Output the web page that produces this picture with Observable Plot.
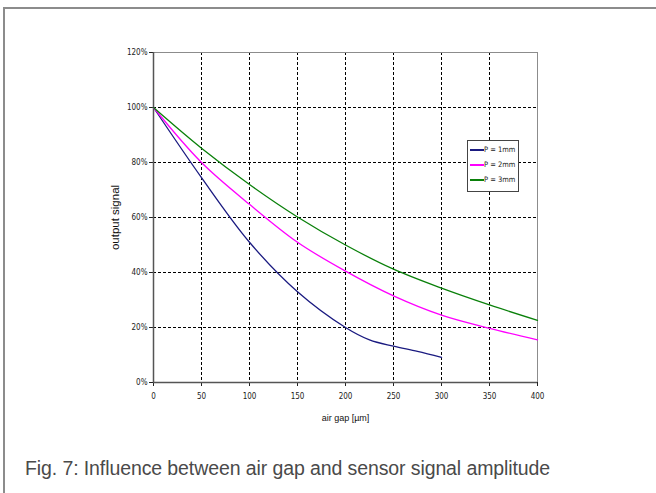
<!DOCTYPE html>
<html>
<head>
<meta charset="utf-8">
<script src="https://cdn.jsdelivr.net/npm/d3@7"></script>
<script src="https://cdn.jsdelivr.net/npm/@observablehq/plot@0.6"></script>
<style>
  html, body { margin: 0; padding: 0; background: #fff; }
  #wrap { position: relative; width: 656px; height: 493px; overflow: hidden; }
  #border { position: absolute; left: 3px; top: 7px; width: 660px; height: 500px;
            border-top: 2px solid #8c8c8c; border-left: 2px solid #8c8c8c; }
  #chart { position: absolute; left: 0; top: 0; }
  #legend { position: absolute; left: 467px; top: 140px; width: 50px; height: 50px;
            border: 1px solid #444; background: #fff;
            font-family: "DejaVu Sans Condensed", "Liberation Sans", Arial, sans-serif; font-size: 7.5px; color: #222; }
  #legend .row { position: absolute; left: 2px; height: 10px; line-height: 10px; white-space: nowrap; }
  #legend .sw { display: inline-block; width: 14px; height: 2px; vertical-align: middle; margin-right: 0px; }
  #caption { position: absolute; left: 25px; top: 457px; font-family: "Liberation Sans", Arial, sans-serif;
             font-size: 19.5px; color: #4a4a4a; white-space: nowrap; letter-spacing: -0.1px; }
</style>
</head>
<body>
<div id="wrap">
  <div id="border"></div>
  <div id="chart"></div>
  <div id="legend"></div>
  <div id="caption">Fig. 7: Influence between air gap and sensor signal amplitude</div>
</div>
<script>
const seriesNames = ["P = 1mm", "P = 2mm", "P = 3mm"];
const seriesColors = ["#1a1a80", "#ff00ff", "#0a800a"];
const gap1 = [0, 50, 100, 150, 200, 225, 250, 275, 300];
const sig1 = [1.00, 0.745, 0.51, 0.33, 0.20, 0.155, 0.132, 0.113, 0.091];
const gap2 = [0, 50, 100, 150, 200, 250, 300, 350, 400];
const sig2 = [1.00, 0.80, 0.648, 0.51, 0.405, 0.315, 0.245, 0.197, 0.155];
const gap3 = [0, 50, 100, 150, 200, 250, 300, 350, 400];
const sig3 = [1.00, 0.852, 0.72, 0.602, 0.50, 0.412, 0.343, 0.282, 0.226];
const xTicks = [0, 50, 100, 150, 200, 250, 300, 350, 400];
const yTicks = [0, 0.2, 0.4, 0.6, 0.8, 1.0, 1.2];

const data = [];
[[gap1, sig1], [gap2, sig2], [gap3, sig3]].forEach(([g, s], i) => {
  g.forEach((x, j) => data.push({series: seriesNames[i], gap: x, signal: s[j]}));
});

const plot = Plot.plot({
  width: 656,
  height: 440,
  marginLeft: 153,
  marginRight: 119,
  marginTop: 52,
  marginBottom: 58,
  style: { fontFamily: '"DejaVu Sans Condensed", "Liberation Sans", Arial, sans-serif', fontSize: "8px", color: "#222", background: "transparent" },
  x: { domain: [0, 400], ticks: xTicks, label: null },
  y: { domain: [0, 1.2], ticks: yTicks, label: null },
  color: { domain: seriesNames, range: seriesColors },
  marks: [
    Plot.gridX(xTicks.filter(t => t > 0 && t < 400), { stroke: "#000", strokeOpacity: 1, strokeDasharray: "3,2", strokeWidth: 1 }),
    Plot.gridY(yTicks.filter(t => t > 0 && t < 1.2), { stroke: "#000", strokeOpacity: 1, strokeDasharray: "3,2", strokeWidth: 1 }),
    Plot.frame({ stroke: "#8c8c8c", strokeWidth: 1 }),
    Plot.axisX({ ticks: xTicks, tickSize: 4, tickPadding: 7, label: null }),
    Plot.axisY({ ticks: yTicks, tickSize: 4, tickPadding: 2, tickFormat: d3.format(".0%"), label: null }),
    Plot.ruleX([0], { stroke: "#555", strokeWidth: 1.5 }),
    Plot.ruleY([0], { stroke: "#555", strokeWidth: 1.5 }),
    Plot.line(data, { x: "gap", y: "signal", z: "series", stroke: "series", strokeWidth: 1.3, curve: "catmull-rom" }),
    Plot.text(["air gap [µm]"], { frameAnchor: "bottom", dy: 38, fontSize: 9, fontFamily: '"Liberation Sans", Arial, sans-serif', fill: "#111" }),
    Plot.text(["output signal"], { frameAnchor: "left", dx: -38, rotate: -90, textAnchor: "middle", fontSize: 11.5, letterSpacing: "1.2px", fontFamily: '"Liberation Sans", Arial, sans-serif', fill: "#111" })
  ]
});
document.getElementById("chart").appendChild(plot);

const legend = document.getElementById("legend");
seriesNames.forEach((name, i) => {
  const row = document.createElement("div");
  row.className = "row";
  row.style.top = (4 + i * 15) + "px";
  row.innerHTML = `<span class="sw" style="background-color:${seriesColors[i]}"></span>${name}`;
  legend.appendChild(row);
});
</script>
</body>
</html>
